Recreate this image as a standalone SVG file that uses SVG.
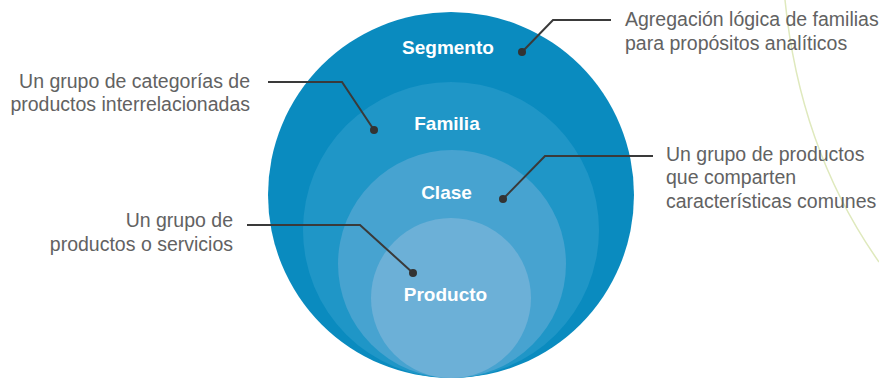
<svg xmlns="http://www.w3.org/2000/svg" width="879" height="380" viewBox="0 0 879 380">
<style>
.lbl{font-family:"Liberation Sans",Arial,sans-serif;font-weight:bold;font-size:19px;fill:#ffffff;text-anchor:middle}
.note{font-family:"Liberation Sans",Arial,sans-serif;font-size:19.5px;fill:#626262}
.r{text-anchor:end}
.lead{fill:none;stroke:#3a3a3a;stroke-width:2}
.dot{fill:#333333}
</style>
<path d="M785,0 Q800,150 879,262" fill="none" stroke="#dfe9bd" stroke-width="1.5"/>
<g id="segmento">
<circle cx="451" cy="195" r="183" fill="#0a8bbf"/>
<text class="lbl" x="448" y="54">Segmento</text>
</g>
<g id="familia">
<circle cx="451" cy="230" r="148" fill="#1f96c7"/>
<text class="lbl" x="447" y="130">Familia</text>
</g>
<g id="clase">
<circle cx="452" cy="264" r="114" fill="#47a3d0"/>
<text class="lbl" x="446.5" y="199">Clase</text>
</g>
<g id="producto">
<circle cx="451" cy="298" r="80" fill="#6cb0d7"/>
<text class="lbl" x="445.5" y="301">Producto</text>
</g>
<g id="connectors">
<polyline class="lead" points="611,20 553,20 522,52"/>
<circle class="dot" cx="522" cy="52" r="4"/>
<polyline class="lead" points="268,82 342,82 374,130"/>
<circle class="dot" cx="374" cy="130" r="4"/>
<polyline class="lead" points="653,156 545,156 503,199"/>
<circle class="dot" cx="503" cy="199" r="4"/>
<polyline class="lead" points="247,225 360,225 413,273"/>
<circle class="dot" cx="413" cy="273" r="4"/>
</g>
<g id="note-segmento">
<text class="note" x="625" y="26">Agregación lógica de familias</text>
<text class="note" x="625" y="50">para propósitos analíticos</text>
</g>
<g id="note-familia">
<text class="note r" x="250" y="88">Un grupo de categorías de</text>
<text class="note r" x="250" y="111">productos interrelacionadas</text>
</g>
<g id="note-clase">
<text class="note" x="666" y="161">Un grupo de productos</text>
<text class="note" x="666" y="184">que comparten</text>
<text class="note" x="666" y="208">características comunes</text>
</g>
<g id="note-producto">
<text class="note r" x="233" y="227">Un grupo de</text>
<text class="note r" x="233" y="251">productos o servicios</text>
</g>
</svg>
